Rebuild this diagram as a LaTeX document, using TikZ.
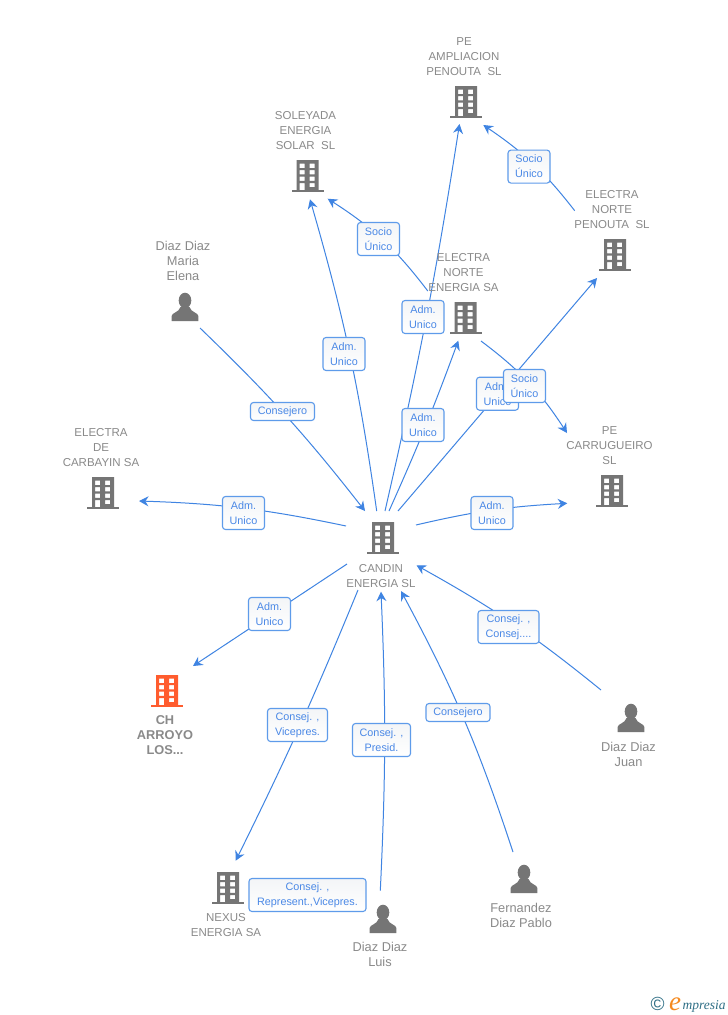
\documentclass[tikz,border=0pt]{standalone}
\usepackage{fontspec}
\setmainfont{Liberation Sans}
\newfontfamily\logoserif{Liberation Serif}
\usetikzlibrary{arrows.meta}
\pgfdeclarelayer{under}
\pgfsetlayers{under,main}
\definecolor{linkblue}{HTML}{3F84E2}
\definecolor{boxblue}{HTML}{5E9BEA}
\definecolor{labelblue}{HTML}{4A88E6}
\definecolor{textgrey}{HTML}{8A8A8A}
\definecolor{icongrey}{HTML}{757575}
\definecolor{iconorange}{HTML}{FF5C2E}
\definecolor{logoteal}{HTML}{2F6F86}
\definecolor{logoorange}{HTML}{F58A1F}
\definecolor{HFill}{HTML}{F3F5F7}
\tikzset{
  x=1pt,y=-1pt,
  ent/.style={inner sep=0pt,minimum size=30pt,shape=circle},
  name text/.style={align=center,text=textgrey,font=\fontsize{11.5}{15}\selectfont,inner sep=0pt,yshift=-1pt},
  person text/.style={align=center,text=textgrey,font=\fontsize{12.8}{15}\selectfont,inner sep=0pt,yshift=-0.5pt},
  bold text/.style={align=center,text=textgrey,font=\fontsize{12.8}{15}\selectfont\bfseries,inner sep=0pt,yshift=-0.5pt},
  role/.style={draw=boxblue,line width=1.1pt,rounded corners=3pt,top color=HFill,bottom color=white,
    text=labelblue,align=center,font=\fontsize{10.8}{15}\selectfont,inner sep=0pt,
    minimum height=33pt,minimum width=42pt,execute at begin node={\vspace*{2pt}}},
  link/.style={draw=linkblue,line width=1pt,-{Stealth[length=9.5pt,width=10pt,inset=3.2pt]}},
}
\newcommand{\bldg}[4]{%
  \node[ent] (#1) at (#2,#3) {};
  \fill[#4,even odd rule,shift={(#2,#3)}]
    (-11,-16) rectangle (11,14)
    (-8,-12.5) rectangle (-2.8,-8) (2,-12.5) rectangle (7.2,-8)
    (-8,-6) rectangle (-2.8,-1.7) (2,-6) rectangle (7.2,-1.7)
    (-8,0.5) rectangle (-2.8,4.8) (2,0.5) rectangle (7.2,4.8)
    (-8,7) rectangle (-2.8,14) (2,7) rectangle (7.2,11.2);
  \fill[#4,shift={(#2,#3)}] (-16,13.6) rectangle (16,16);
}
\newcommand{\persona}[3]{%
  \node[ent] (#1) at (#2,#3) {};
  \fill[icongrey,shift={(#2,#3)}] (0,-6.5) ellipse [x radius=6.3,y radius=7.8];
  \fill[icongrey,shift={(#2,#3)}] (-13.4,14) -- (-13.4,9) .. controls (-13,5.5) and (-6,5.5) .. (-4.5,0)
    -- (4.5,0) .. controls (6,5.5) and (13,5.5) .. (13.4,9) -- (13.4,14) -- cycle;
}
\begin{document}
\begin{tikzpicture}
\begin{pgfonlayer}{under}
\fill[white] (0,0) rectangle (728,1015);
\end{pgfonlayer}
\useasboundingbox (0,0) rectangle (728,1015);

% entities
\bldg{cand}{383}{538}{icongrey}
\bldg{peamp}{466}{102}{icongrey}
\bldg{sole}{307.5}{176}{icongrey}
\bldg{enp}{615}{255}{icongrey}
\bldg{ene}{465.5}{318}{icongrey}
\bldg{carru}{612}{491}{icongrey}
\bldg{carb}{103}{493}{icongrey}
\bldg{arroyo}{167}{691}{iconorange}
\bldg{nexus}{228}{888}{icongrey}
\persona{maria}{185}{307}
\persona{juan}{631}{718}
\persona{luis}{383}{919}
\persona{pablo}{524}{879}

% entity names
\node[name text] (t1) at (464,56) {PE\\AMPLIACION\\PENOUTA\ \ SL};
\node[name text] (t2) at (305.5,130) {SOLEYADA\\ENERGIA\\SOLAR\ \ SL};
\node[name text] (t3) at (612,209) {ELECTRA\\NORTE\\PENOUTA\ \ SL};
\node[name text] (t4) at (463.5,272) {ELECTRA\\NORTE\\ENERGIA SA};
\node[name text] (t5) at (609.5,445) {PE\\CARRUGUEIRO\\SL};
\node[name text] (t6) at (101,447) {ELECTRA\\DE\\CARBAYIN SA};
\node[person text] (t7) at (183,260) {Diaz Diaz\\Maria\\Elena};
\node[name text] (t8) at (381,575) {CANDIN\\ENERGIA SL};
\node[bold text] (t9) at (165,735) {CH\\ARROYO\\LOS...};
\node[name text] (t10) at (226,924.5) {NEXUS\\ENERGIA SA};
\node[person text] (t11) at (380,954) {Diaz Diaz\\Luis};
\node[person text] (t12) at (521,914.5) {Fernandez\\Diaz Pablo};
\node[person text] (t13) at (628.5,753.5) {Diaz Diaz\\Juan};

% role boxes
\node[role] (ra) at (423,317) {Adm.\\Unico};
\node[role] (rb) at (423,425) {Adm.\\Unico};
\node[role] (rc) at (497.5,393.7) {Adm.\\Unico};
\node[role] (rd) at (524.5,386) {Socio\\Único};
\node[role] (re) at (492,513) {Adm.\\Unico};
\node[role] (rf) at (344,354) {Adm.\\Unico};
\node[role] (rg) at (378.5,239) {Socio\\Único};
\node[role] (rh) at (529,166.6) {Socio\\Único};
\node[role,minimum width=64pt,minimum height=18pt] (ri) at (282.5,411.5) {Consejero};
\node[role] (rj) at (243.5,513) {Adm.\\Unico};
\node[role] (rk) at (269.5,614) {Adm.\\Unico};
\node[role,minimum width=60pt] (rl) at (297.5,725) {Consej. ,\\Vicepres.};
\node[role,minimum width=58pt] (rm) at (381.5,740) {Consej. ,\\Presid.};
\node[role,minimum width=117pt] (rn) at (307.5,895) {Consej. ,\\Represent.,Vicepres.};
\node[role,minimum width=64pt,minimum height=18pt] (ro) at (458,712.5) {Consejero};
\node[role,minimum width=61pt] (rp) at (508.5,627) {Consej. ,\\Consej....};

% connectors, under the boxes
\begin{pgfonlayer}{under}
\draw[link] ([shift={(2,-27)}]cand.center) to[bend right=2] ([shift={(-6.5,22)}]peamp.center);
\draw[link] ([shift={(6,-27)}]cand.center) to[bend right=2] ([shift={(-7.2,22.7)}]ene.center);
\draw[link] ([shift={(15,-27)}]cand.center) -- ([shift={(-18,23)}]enp.center);
\draw[link] ([shift={(33,-13)}]cand.center) to[bend left=5] ([shift={(-44.7,12.3)}]carru.center);
\draw[link] ([shift={(-6.3,-27)}]cand.center) to[bend right=4] ([shift={(2.5,23.3)}]sole.center);
\draw[link] ([shift={(-37,-12)}]cand.center) to[bend right=5] ([shift={(36,8)}]carb.center);
\draw[link] ([shift={(-36,26)}]cand.center) -- ([shift={(26,-25)}]arroyo.center);
\draw[link] ([shift={(-25,52)}]cand.center) to[bend left=2] ([shift={(7.7,-27.3)}]nexus.center);
\draw[link] ([shift={(-37.7,-27)}]ene.center) to[bend right=10] ([shift={(20.2,22.7)}]sole.center);
\draw[link] ([shift={(-40.3,-44.3)}]enp.center) to[bend right=9] ([shift={(17.3,23)}]peamp.center);
\draw[link] ([shift={(15.5,23)}]ene.center) to[bend left=10] ([shift={(-45,-58)}]carru.center);
\draw[link] ([shift={(15,21)}]maria.center) to[bend left=4] ([shift={(-18,-27)}]cand.center);
\draw[link] ([shift={(-2.7,-28.3)}]luis.center) to[bend right=2.6] ([shift={(-2,53.7)}]cand.center);
\draw[link] ([shift={(-11,-27)}]pablo.center) to[bend right=5] ([shift={(18,53)}]cand.center);
\draw[link] ([shift={(-30,-28)}]juan.center) to[bend right=5] ([shift={(33.5,27.3)}]cand.center);
\end{pgfonlayer}

% logo
\node[inner sep=0pt,text=logoteal,font=\fontsize{19}{19}\selectfont] (lc) at (657.5,1004) {©};
\node[inner sep=0pt,anchor=base west,text=logoorange,font=\logoserif\fontsize{27}{27}\selectfont\itshape] (le) at (669,1010) {e};
\node[inner sep=0pt,anchor=base west,text=logoteal,font=\logoserif\fontsize{13.5}{14}\selectfont\itshape] (lm) at (682.5,1009.5) {mpresia};
\end{tikzpicture}
\end{document}
